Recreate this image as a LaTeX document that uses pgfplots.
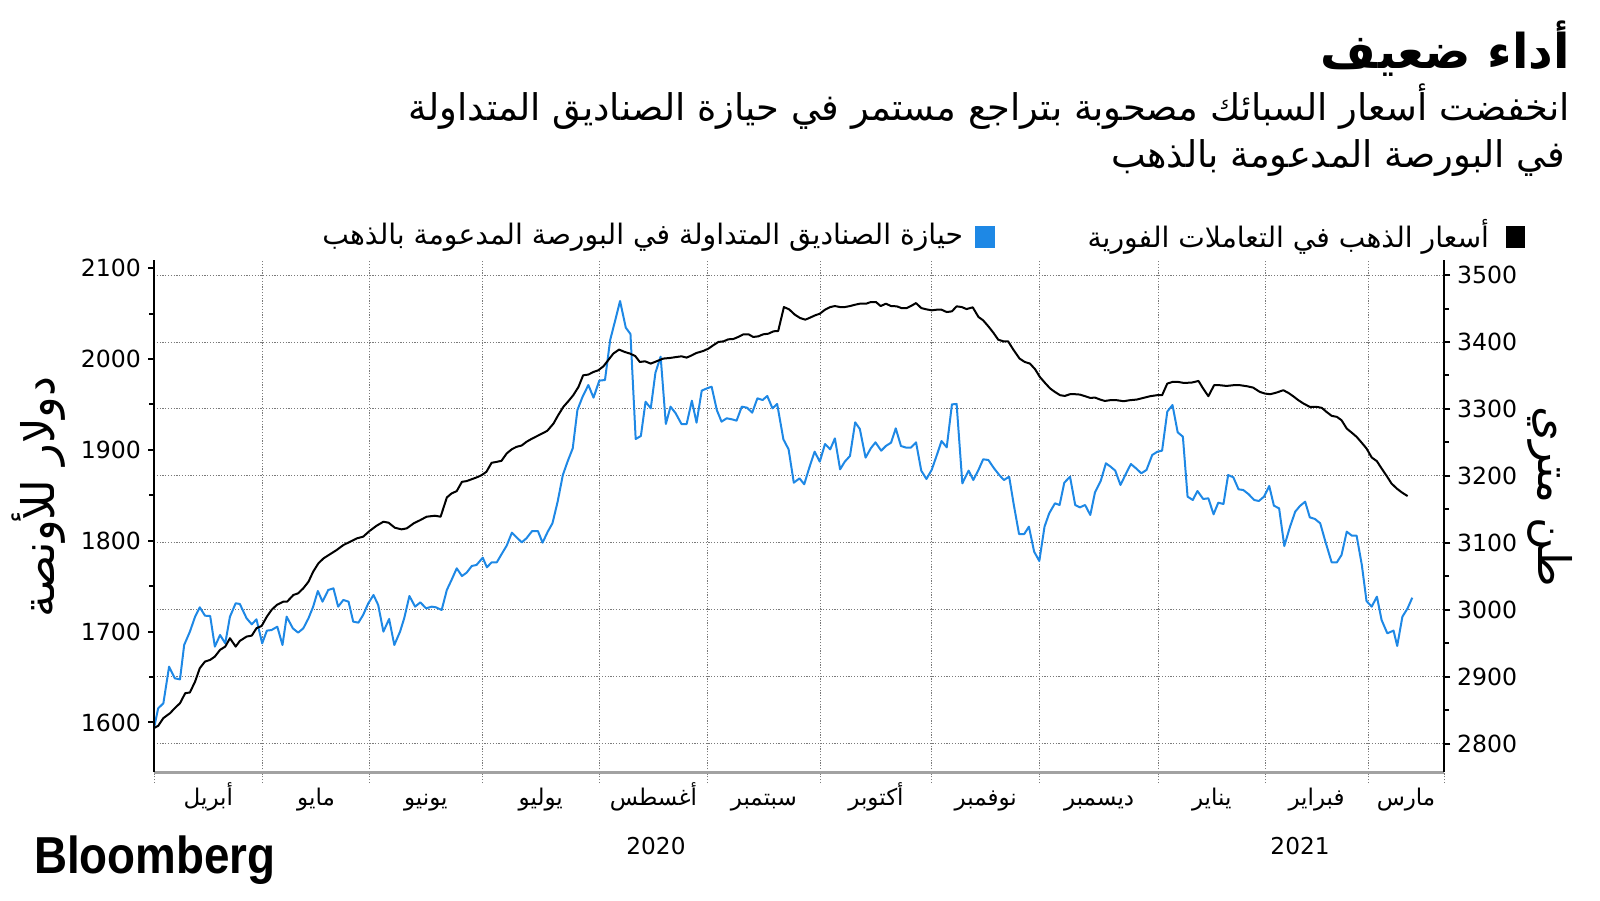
\documentclass[border=0pt]{standalone}
\usepackage{fontspec}
\setmainfont{DejaVu Sans}
\newfontfamily\arabicfont[Script=Arabic]{DejaVu Sans}
\newfontfamily\bbgfont[FakeStretch=0.88]{Liberation Sans}
\usepackage{pgfplots}
\pgfplotsset{compat=1.18}
\usepackage{pgfplotstable}
\TeXXeTstate=1

\definecolor{etfblue}{HTML}{1E88E5}
\definecolor{gridgray}{HTML}{7A7A7A}
\newcommand{\artext}[1]{{\arabicfont\beginR #1\endR}}

% black series, left axis (USD/oz); x = trading day from 1 April 2020
\pgfplotstableread{
d v
0 1593.8
0.8 1596.3
1.8 1604.8
3.1 1610.3
4.0 1615.8
5.0 1621.2
6.0 1632.2
6.9 1633.0
7.9 1645.0
8.8 1659.7
9.8 1667.0
10.8 1668.9
11.7 1672.5
12.7 1679.9
13.7 1683.5
14.6 1692.7
15.7 1683.5
16.5 1689.7
17.8 1694.5
18.8 1695.6
19.7 1703.7
20.7 1706.2
21.7 1716.5
22.6 1723.8
23.6 1729.3
24.9 1733.0
25.6 1733.0
26.8 1740.3
27.7 1742.1
28.7 1747.6
29.7 1754.9
30.6 1765.9
31.6 1775.1
32.6 1780.6
33.8 1785.0
35.1 1789.7
36.4 1795.2
37.7 1798.9
39.0 1802.6
40.2 1804.4
41.5 1811.0
42.8 1816.5
44.1 1820.9
45.1 1819.8
46.3 1814.3
47.6 1812.5
48.6 1813.6
49.9 1819.0
51.2 1822.7
52.4 1826.4
54.0 1827.5
55.1 1826.4
56.3 1847.6
57.2 1852.0
58.2 1854.6
59.2 1864.8
60.1 1865.6
62.0 1869.6
63.0 1872.2
63.9 1875.8
64.9 1885.7
65.9 1886.8
66.8 1887.9
67.8 1896.0
68.8 1900.7
69.7 1903.3
70.7 1904.8
71.6 1908.8
72.6 1912.1
73.6 1915.0
74.5 1917.6
75.6 1920.9
76.8 1928.9
77.7 1938.1
78.7 1947.3
79.7 1953.8
80.6 1960.1
81.6 1969.2
82.5 1982.0
83.5 1982.8
84.5 1985.7
85.4 1987.5
86.4 1991.9
87.3 1998.5
88.3 2005.9
89.4 2010.3
90.5 2007.7
91.5 2005.9
92.5 2003.3
93.4 1996.7
94.4 1997.4
95.5 1994.9
96.6 1997.4
97.9 2000.4
99.2 2001.1
100.5 2002.2
101.4 2002.9
102.4 2001.5
103.4 2004.0
104.3 2006.6
105.6 2008.8
106.6 2011.4
107.5 2015.0
108.5 2018.7
109.5 2019.4
110.4 2021.6
111.4 2022.0
112.3 2024.2
113.3 2027.1
114.3 2027.1
115.2 2024.2
116.2 2024.9
117.1 2027.1
118.1 2027.8
119.1 2030.4
120.0 2030.8
121.1 2057.1
122.1 2054.6
123.2 2048.7
124.2 2045.1
125.2 2043.2
126.1 2045.4
127.1 2048.0
128.0 2049.8
129.0 2054.2
130.0 2057.1
130.9 2058.2
131.9 2057.1
132.8 2057.1
133.8 2058.2
134.8 2059.7
135.7 2060.8
136.9 2060.8
137.8 2062.6
138.8 2062.6
139.7 2058.2
140.7 2060.8
141.7 2058.2
142.8 2057.9
143.7 2056.0
144.7 2056.0
145.5 2058.2
146.5 2061.5
147.5 2056.0
148.5 2054.6
149.5 2053.5
150.5 2054.2
151.4 2054.2
152.4 2051.6
153.4 2052.4
154.3 2057.9
155.3 2057.1
156.2 2054.9
157.4 2056.8
158.5 2046.2
159.4 2042.5
160.4 2035.9
161.4 2028.6
162.3 2021.2
163.3 2019.4
164.2 2019.4
165.2 2010.3
166.4 2000.4
167.4 1996.7
168.4 1994.9
169.4 1988.6
170.3 1980.2
171.3 1973.6
172.3 1967.4
173.2 1963.7
174.2 1960.1
175.1 1959.3
176.1 1961.2
177.1 1961.2
178.0 1960.8
179.0 1959.0
180.0 1957.1
180.9 1957.5
181.9 1955.3
182.8 1953.8
183.8 1954.6
185.1 1954.6
186.4 1953.5
187.6 1954.6
188.9 1955.3
190.2 1957.1
191.5 1959.0
192.8 1960.1
193.8 1960.1
194.8 1972.9
195.8 1974.7
196.9 1974.7
198.0 1973.6
199.5 1974.0
200.8 1975.8
201.7 1967.4
202.7 1959.0
203.8 1971.1
204.9 1971.1
206.2 1970.3
207.5 1971.1
208.8 1971.1
210.1 1970.0
211.3 1968.5
212.6 1963.7
213.6 1961.9
214.6 1961.2
215.8 1963.0
217.1 1965.6
218.1 1962.6
219.0 1959.0
220.0 1954.6
221.0 1950.9
222.2 1947.3
223.5 1947.3
224.5 1946.2
225.4 1941.8
226.4 1937.4
227.4 1936.3
228.3 1932.6
229.3 1923.4
230.3 1918.7
231.2 1914.3
232.2 1907.7
233.1 1901.5
234.1 1891.6
235.1 1887.5
236.0 1879.5
237.0 1871.1
237.9 1863.0
238.9 1857.5
239.9 1853.1
241.0 1849.1
}\goldtable

% blue series, right axis (tonnes)
\pgfplotstableread{
d v
0 2823.4
0.8 2853.2
1.8 2860.7
2.9 2915.4
4.0 2898.0
5.0 2896.5
5.8 2947.8
6.9 2967.7
7.9 2990.0
8.8 3004.0
9.8 2991.5
10.8 2991.0
11.7 2945.3
12.7 2962.7
13.7 2950.2
14.6 2990.0
15.7 3010.0
16.5 3009.0
17.8 2987.6
18.8 2978.6
19.7 2986.1
20.8 2950.2
21.7 2969.2
22.6 2970.1
23.7 2975.1
24.7 2947.8
25.5 2990.0
26.7 2972.6
27.7 2966.2
28.7 2972.6
29.7 2987.6
30.6 3005.0
31.5 3028.4
32.4 3012.4
33.5 3029.9
34.5 3032.3
35.4 3005.0
36.4 3015.0
37.4 3012.4
38.3 2982.6
39.3 2981.1
40.2 2992.5
41.2 3010.0
42.2 3022.4
43.1 3007.5
44.1 2967.7
45.2 2986.6
46.2 2947.8
47.3 2967.7
48.1 2987.6
49.1 3020.9
50.2 3005.0
51.2 3011.4
52.3 3002.5
53.4 3005.0
54.2 3004.0
55.3 3000.0
56.3 3029.9
57.2 3044.8
58.2 3062.2
59.2 3050.7
60.1 3055.7
61.1 3065.7
62.0 3067.2
63.2 3078.1
64.0 3063.7
64.9 3071.1
65.9 3071.1
66.8 3083.1
67.8 3096.0
68.8 3115.4
69.7 3108.5
70.7 3101.0
71.6 3107.0
72.7 3117.9
73.8 3117.9
74.7 3100.5
75.7 3116.9
76.6 3129.4
77.6 3161.7
78.6 3201.5
79.5 3221.4
80.5 3241.3
81.4 3298.5
82.4 3318.4
83.5 3335.8
84.5 3316.9
85.6 3342.3
86.7 3343.3
87.7 3403.0
88.6 3430.3
89.6 3461.2
90.7 3421.4
91.6 3411.9
92.6 3255.2
93.6 3259.7
94.5 3310.9
95.5 3301.0
96.4 3354.2
97.4 3378.1
98.4 3277.6
99.3 3303.5
100.3 3293.5
101.4 3277.6
102.4 3277.6
103.4 3312.4
104.3 3279.6
105.3 3327.4
106.3 3330.8
107.2 3333.3
108.2 3298.5
109.1 3281.1
110.1 3286.1
111.1 3284.6
112.0 3282.6
113.0 3303.5
114.0 3302.0
115.0 3294.5
116.0 3315.9
117.0 3313.4
117.9 3319.4
118.9 3301.0
119.8 3307.5
121.0 3254.7
122.0 3239.8
123.0 3190.0
124.1 3196.5
125.0 3187.6
126.0 3212.9
127.0 3236.3
128.0 3221.4
129.0 3247.8
130.0 3239.8
130.9 3256.2
131.9 3209.9
132.8 3221.4
133.8 3229.9
134.8 3280.1
135.7 3270.1
136.8 3227.4
137.8 3241.3
138.7 3250.2
139.8 3237.8
140.7 3244.8
141.7 3249.8
142.6 3271.1
143.6 3244.8
144.6 3242.3
145.5 3242.3
146.5 3250.2
147.5 3208.0
148.5 3195.5
149.5 3209.0
150.5 3231.3
151.4 3252.2
152.4 3242.8
153.4 3306.9
154.3 3307.5
155.4 3189.0
156.6 3208.0
157.5 3194.0
158.5 3209.0
159.4 3224.9
160.4 3223.9
161.5 3211.4
162.5 3201.5
163.4 3194.0
164.4 3199.0
165.3 3156.7
166.3 3113.4
167.3 3113.4
168.2 3124.4
169.2 3087.1
170.2 3073.1
171.2 3124.4
172.1 3144.3
173.2 3159.2
174.1 3156.7
175.0 3190.0
176.1 3199.0
177.1 3156.7
178.0 3153.2
179.0 3156.7
180.0 3141.8
180.9 3175.6
182.0 3192.5
183.0 3218.9
183.9 3213.9
184.8 3208.0
185.8 3186.6
186.8 3202.5
187.8 3217.9
188.8 3211.4
189.8 3204.0
190.8 3209.0
191.9 3231.3
192.9 3236.3
193.8 3237.8
194.8 3296.0
195.8 3306.0
196.8 3265.2
197.8 3258.7
198.7 3169.2
199.7 3164.2
200.6 3177.6
201.7 3165.7
202.7 3166.7
203.7 3142.8
204.6 3160.2
205.6 3158.2
206.5 3201.5
207.5 3198.0
208.5 3180.1
209.4 3179.1
210.4 3173.1
211.5 3164.2
212.4 3162.7
213.4 3169.2
214.4 3185.1
215.3 3155.7
216.3 3151.7
217.3 3095.5
218.4 3124.4
219.4 3146.8
220.3 3155.2
221.3 3161.7
222.2 3138.3
223.2 3135.8
224.2 3129.4
225.2 3102.0
226.4 3071.1
227.4 3071.1
228.3 3082.1
229.3 3116.9
230.3 3110.9
231.2 3110.9
232.2 3067.2
233.1 3013.4
234.1 3005.0
235.1 3019.9
236.0 2985.1
237.1 2965.2
238.3 2969.2
239.0 2946.3
240.0 2990.0
241.0 3002.5
241.9 3018.4
}\etftable

\tikzset{dotgrid/.style={gridgray, line width=0.5pt, dash pattern=on 0.6pt off 0.8pt}}
\pgfplotsset{
  base/.style={
    at={(77pt,64pt)}, anchor=south west,
    width=645pt, height=256pt, scale only axis,
    xmin=0, xmax=248,
    /pgf/number format/assume math mode=true,
    /pgf/number format/1000 sep={},
    tick align=outside,
  },
}

\begin{document}
\begin{tikzpicture}[x=0.5pt,y=0.5pt]
\useasboundingbox (0,0) rectangle (1600,900);

% months: boundaries, vertical grid, labels
\begin{axis}[base,
  ymin=0, ymax=1,
  axis y line=none, axis x line*=bottom,
  x axis line style={gridgray!70, line width=1.5pt},
  xtick={0,20.9,41.4,63.1,85.6,106.4,128.1,149.5,170.3,193.1,213.6,233.4,248},
  x tick label as interval,
  xticklabels={{\artext{أبريل}},{\artext{مايو}},{\artext{يونيو}},{\artext{يوليو}},{\artext{أغسطس}},{\artext{سبتمبر}},{\artext{أكتوبر}},{\artext{نوفمبر}},{\artext{ديسمبر}},{\artext{يناير}},{\artext{فبراير}},{\artext{مارس}}},
  xmajorgrids, major grid style={dotgrid},
  major tick length=5.5pt,
  xtick style={dotgrid},
  xticklabel style={font=\fontsize{11.5}{14}\selectfont, anchor=base, yshift=-11pt},
]
\end{axis}

% tonnes, right axis
\begin{axis}[base,
  ymin=2758.2, ymax=3522.4,
  axis x line=none, axis y line*=right,
  y axis line style={black, line width=1.1pt},
  ytick={2800,2900,...,3500},
  minor ytick={2850,2950,...,3450},
  ymajorgrids, major grid style={dotgrid},
  major tick length=3pt, minor tick length=2.5pt,
  ytick style={black, line width=1pt},
  minor tick style={line width=0.5pt},
  yticklabel style={font=\fontsize{11.8}{13}\selectfont},
]
\addplot[etfblue, line width=1pt, line join=round] table[x=d, y=v] {\etftable};
\end{axis}

% USD per ounce, left axis
\begin{axis}[base,
  ymin=1545.5, ymax=2108.9,
  axis x line=none, axis y line*=left,
  y axis line style={black, line width=1.2pt},
  ytick={1600,1700,...,2100},
  minor ytick={1650,1750,...,2050},
  major tick length=3pt, minor tick length=2.5pt,
  ytick style={black, line width=1pt},
  minor tick style={line width=0.5pt},
  yticklabel style={font=\fontsize{11.8}{13}\selectfont},
]
\addplot[black, line width=1pt, line join=round] table[x=d, y=v] {\goldtable};
\end{axis}

% titles
\node[anchor=east, font=\fontsize{24}{28}\selectfont\bfseries] at (1577,851) {\artext{أداء ضعيف}};
\node[anchor=east, font=\fontsize{18.4}{22}\selectfont] at (1577,793) {\artext{انخفضت أسعار السبائك مصحوبة بتراجع مستمر في حيازة الصناديق المتداولة}};
\node[anchor=east, font=\fontsize{18.4}{22}\selectfont] at (1572,742) {\artext{في البورصة المدعومة بالذهب}};

% legend
\fill[black] (1506,652) rectangle (1525,674);
\node[anchor=east, font=\fontsize{14.1}{16}\selectfont] at (1496,663) {\artext{أسعار الذهب في التعاملات الفورية}};
\fill[etfblue] (975,652) rectangle (995,674);
\node[anchor=east, font=\fontsize{14.1}{16}\selectfont] at (970,663) {\artext{حيازة الصناديق المتداولة في البورصة المدعومة بالذهب}};

% axis titles
\node[rotate=90, font=\fontsize{22.4}{26}\selectfont] at (39,403) {\artext{دولار للأونصة}};
\node[rotate=-90, font=\fontsize{22.4}{26}\selectfont] at (1550,403) {\artext{طن متري}};

% years
\node[font=\fontsize{11.6}{13}\selectfont] at (656,54) {2020};
\node[font=\fontsize{11.6}{13}\selectfont] at (1300,54) {2021};

\node[anchor=west, font=\fontsize{26}{28}\bbgfont\bfseries] at (27,40) {Bloomberg};
\end{tikzpicture}
\end{document}
